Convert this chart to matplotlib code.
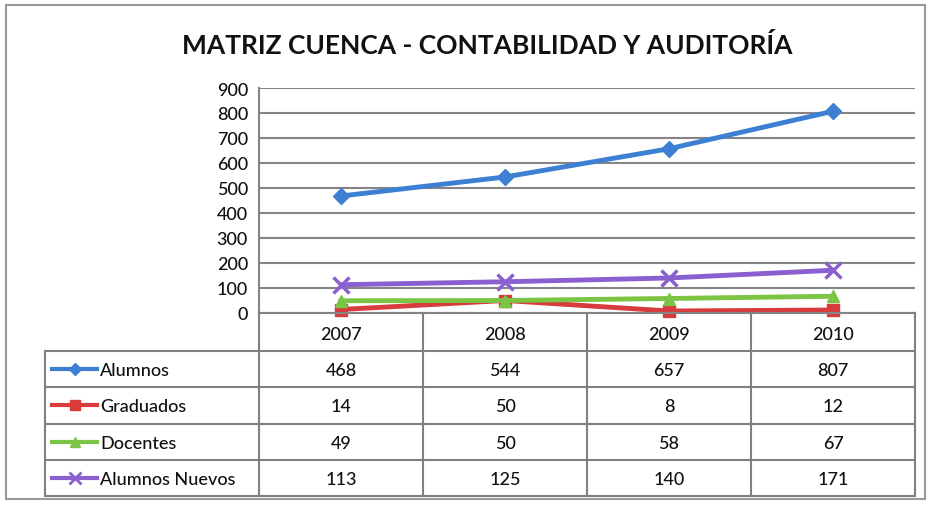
import matplotlib.pyplot as plt
from matplotlib.lines import Line2D
from matplotlib.patches import Rectangle

years = ['2007', '2008', '2009', '2010']
series_names = ['Alumnos', 'Graduados', 'Docentes', 'Alumnos Nuevos']
alumnos = [468, 544, 657, 807]
graduados = [14, 50, 8, 12]
docentes = [49, 50, 58, 67]
alumnos_nuevos = [113, 125, 140, 171]
y_ticks = [0, 100, 200, 300, 400, 500, 600, 700, 800, 900]

values = [alumnos, graduados, docentes, alumnos_nuevos]
colors = ['#3d7fd3', '#d83b3b', '#7cc443', '#8a5fcf']
markers = ['D', 's', '^', 'x']
msizes = [8, 9, 9, 11]

plt.rcParams['font.family'] = ['Lato', 'DejaVu Sans']
W, H = 933, 506
fig = plt.figure(figsize=(W / 100, H / 100), dpi=100)
fig.patch.set_facecolor('white')

def fx(px):
    return px / W

def fy(py):
    return 1 - py / H

# outer frame
fig.add_artist(Rectangle((fx(6), fy(500)), fx(919), (494) / H, transform=fig.transFigure,
                         fill=False, edgecolor='#9a9a9a', lw=1.5))

fig.text(fx(487), fy(45), 'MATRIZ CUENCA - CONTABILIDAD Y AUDITORÍA',
         ha='center', va='center', fontsize=19, fontweight='bold', color='#111111')

x0, x1, ytop, ybot = 259, 915, 89, 314
ax = fig.add_axes([fx(x0), fy(ybot), (x1 - x0) / W, (ybot - ytop) / H])
n = len(years)
xs = [i + 0.5 for i in range(n)]
ax.set_xlim(0, n)
ax.set_ylim(0, 900)
ax.set_yticks(y_ticks)
ax.set_yticklabels([str(t) for t in y_ticks], fontsize=13, color='#111111', fontweight='medium')
ax.set_xticks([])
ax.tick_params(axis='y', length=0, pad=8)
ax.grid(axis='y', color='#858585', lw=1.5)
ax.set_axisbelow(True)
for s in ['top', 'right']:
    ax.spines[s].set_visible(False)
ax.spines['left'].set_color('#858585')
ax.spines['left'].set_linewidth(1.5)
ax.spines['bottom'].set_color('#858585')
ax.spines['bottom'].set_linewidth(1.5)

for vals, c, m, ms in zip(values, colors, markers, msizes):
    ax.plot(xs, vals, color=c, lw=3.5, marker=m, markersize=ms,
            markeredgewidth=2.5 if m == 'x' else 1, markeredgecolor=c, clip_on=False)

# data table
tab_left = 45
tab_bottom = 497
header_bottom = 352
row_h = (tab_bottom - header_bottom) / len(series_names)
col_w = (x1 - x0) / n
grid_c = '#808080'

def hline(y, xa, xb):
    fig.add_artist(Line2D([fx(xa), fx(xb)], [fy(y), fy(y)], color=grid_c, lw=1.5))

def vline(x, ya, yb):
    fig.add_artist(Line2D([fx(x), fx(x)], [fy(ya), fy(yb)], color=grid_c, lw=1.5))

for j in range(n + 1):
    vline(x0 + j * col_w, ybot, tab_bottom)
vline(tab_left, header_bottom, tab_bottom)
for i in range(len(series_names) + 1):
    hline(header_bottom + i * row_h, tab_left, x1)

for j, yr in enumerate(years):
    fig.text(fx(x0 + (j + 0.5) * col_w), fy((ybot + header_bottom) / 2 + 2), yr,
             ha='center', va='center', fontsize=13, color='#111111', fontweight='medium')

for i, (name, vals, c, m, ms) in enumerate(zip(series_names, values, colors, markers, msizes)):
    yc = header_bottom + (i + 0.5) * row_h
    fig.add_artist(Line2D([fx(52), fx(97)], [fy(yc), fy(yc)], color=c, lw=3))
    fig.add_artist(Line2D([fx(74.5)], [fy(yc)], color=c, marker=m, markersize=ms - 2,
                          markeredgecolor=c, markeredgewidth=2 if m == 'x' else 1))
    fig.text(fx(100), fy(yc + 1), name, ha='left', va='center', fontsize=13,
             color='#111111', fontweight='medium')
    for j, v in enumerate(vals):
        fig.text(fx(x0 + (j + 0.5) * col_w), fy(yc + 1), str(v),
                 ha='center', va='center', fontsize=13, color='#111111', fontweight='medium')

fig.savefig('out.png', dpi=100)
